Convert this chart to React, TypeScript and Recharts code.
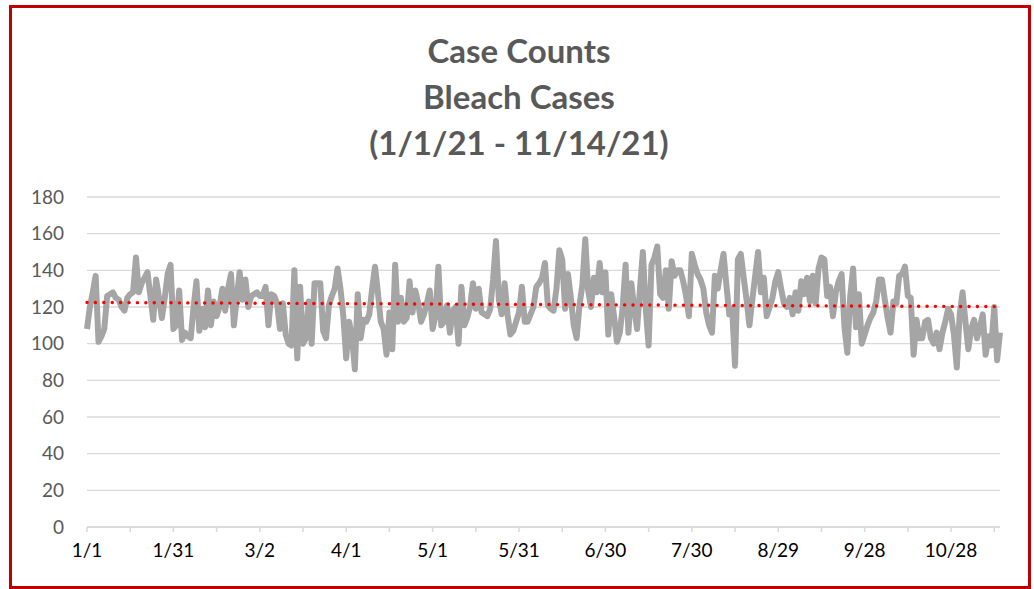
import React from 'react';
import { LineChart, Line, XAxis, YAxis, CartesianGrid } from 'recharts';

// Daily bleach case counts, 1/1/21 (day 0) through 11/14/21 (day 317)
const cases: number[] = [
  108, 120, 128, 137, 101, 104, 108, 126, 127, 128,
  125, 124, 120, 118, 125, 127, 128, 147, 128, 133,
  136, 139, 126, 113, 135, 125, 114, 125, 138, 143,
  108, 110, 129, 102, 106, 104, 103, 120, 134, 107,
  119, 109, 129, 110, 123, 115, 120, 130, 118, 130,
  138, 110, 125, 139, 124, 135, 120, 126, 127, 128,
  126, 126, 131, 110, 127, 126, 122, 108, 122, 105,
  100, 99, 140, 92, 131, 100, 103, 123, 100, 133,
  133, 133, 107, 103, 121, 126, 130, 141, 130, 115,
  92, 112, 104, 86, 127, 103, 113, 112, 116, 130,
  142, 128, 112, 108, 94, 117, 97, 143, 112, 125,
  112, 114, 134, 117, 129, 122, 112, 116, 122, 129,
  108, 115, 142, 110, 112, 121, 106, 118, 120, 100,
  131, 110, 114, 120, 133, 119, 130, 117, 116, 115,
  119, 135, 156, 124, 116, 133, 116, 105, 107, 112,
  117, 131, 112, 112, 116, 120, 131, 133, 136, 144,
  121, 119, 118, 130, 151, 146, 119, 138, 125, 110,
  103, 121, 132, 157, 129, 120, 136, 128, 144, 128,
  139, 105, 127, 115, 101, 106, 120, 143, 106, 133,
  119, 108, 130, 150, 119, 99, 143, 147, 153, 127,
  125, 140, 119, 145, 137, 140, 140, 134, 126, 115,
  149, 143, 138, 135, 130, 117, 110, 106, 137, 130,
  140, 149, 132, 116, 119, 88, 146, 149, 136, 124,
  110, 124, 137, 150, 128, 136, 115, 120, 125, 134,
  139, 130, 122, 120, 125, 116, 128, 118, 134, 127,
  136, 123, 137, 122, 141, 147, 146, 126, 131, 115,
  128, 134, 138, 109, 95, 126, 141, 109, 127, 100,
  105, 110, 114, 117, 123, 135, 135, 124, 114, 106,
  123, 122, 137, 138, 142, 126, 125, 94, 113, 103,
  103, 112, 113, 103, 100, 106, 97, 106, 112, 119,
  116, 105, 87, 116, 128, 112, 97, 108, 113, 103,
  109, 116, 94, 104, 99, 120, 91, 106,
];

// Labels shown every 30 days
const tickLabels: string[] = ['1/1', '1/31', '3/2', '4/1', '5/1', '5/31', '6/30', '7/30', '8/29', '9/28', '10/28'];
const yTicks: number[] = [0, 20, 40, 60, 80, 100, 120, 140, 160, 180];
const titleLines: string[] = ['Case Counts', 'Bleach Cases', '(1/1/21 - 11/14/21)'];

// Linear trendline end values
const trendStart = 122.5;
const trendEnd = 120.2;

const lastDay = cases.length - 1;
const data = cases.map((v, i) => ({
  day: i,
  cases: v,
  trend: i === 0 ? trendStart : i === lastDay ? trendEnd : null,
}));

const xTicks: number[] = [];
for (let d = 0; d <= lastDay; d += 15) xTicks.push(d);

const FONT = 'Lato, "Open Sans", sans-serif';

export default function App() {
  return (
    <div style={{ position: 'absolute', left: 0, top: 0, width: 1034, height: 589, background: '#fff', fontFamily: FONT }}>
      <div
        style={{
          position: 'absolute',
          left: 9,
          top: 5,
          width: 1016,
          height: 578,
          border: '3px solid #C00000',
        }}
      />
      <div
        style={{
          position: 'absolute',
          left: 0,
          top: 27,
          width: 1038,
          textAlign: 'center',
          fontFamily: FONT,
          fontWeight: 700,
          fontSize: 33,
          lineHeight: '46px',
          color: '#595959',
        }}
      >
        {titleLines.map((t) => (
          <div key={t}>{t}</div>
        ))}
      </div>
      <div style={{ position: 'absolute', left: 0, top: 0 }}>
        <LineChart
          width={1034}
          height={589}
          data={data}
          margin={{ top: 197, right: 34, bottom: 32, left: 27 }}
        >
          <CartesianGrid vertical={false} stroke="#d9d9d9" strokeWidth={1.3} />
          <XAxis
            type="number"
            dataKey="day"
            domain={[0, lastDay]}
            ticks={xTicks}
            interval={0}
            tickFormatter={(d: number) => (d % 30 === 0 ? tickLabels[d / 30] : '')}
            stroke="#d9d9d9"
            strokeWidth={1.5}
            tickSize={5}
            tickMargin={12}
            height={30}
            tick={{ fill: '#000', fontSize: 19, fontFamily: FONT }}
          />
          <YAxis
            domain={[0, 180]}
            ticks={yTicks}
            interval={0}
            axisLine={false}
            tickLine={false}
            tickSize={0}
            tickMargin={23}
            width={60}
            tick={{ fill: '#595959', fontSize: 19, fontFamily: FONT }}
          />
          <Line
            type="linear"
            dataKey="cases"
            stroke="#A5A5A5"
            strokeWidth={6}
            strokeLinejoin="round"
            dot={false}
            activeDot={false}
            isAnimationActive={false}
          />
          <Line
            type="linear"
            dataKey="trend"
            connectNulls
            stroke="#FF0000"
            strokeWidth={3.4}
            strokeLinecap="round"
            strokeDasharray="0.1 8.3"
            dot={false}
            activeDot={false}
            isAnimationActive={false}
          />
        </LineChart>
      </div>
    </div>
  );
}
